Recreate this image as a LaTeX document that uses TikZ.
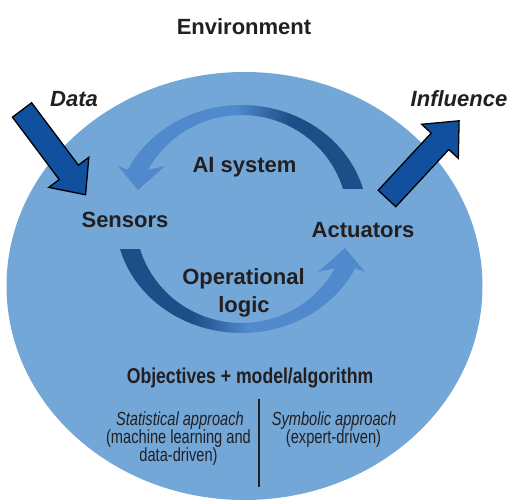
\documentclass[tikz,border=0pt]{standalone}
\usepackage{fontspec}
\setmainfont{Liberation Sans}
\newfontfamily\condfont{Liberation Sans}[FakeStretch=0.82]
\newfontfamily\notefont{Liberation Sans}[FakeStretch=0.77]
\definecolor{envblue}{RGB}{114,167,216}
\definecolor{loopdark}{RGB}{30,78,135}
\definecolor{looplight}{RGB}{80,138,205}
\definecolor{flowblue}{RGB}{17,80,158}
\definecolor{ink}{RGB}{35,31,32}

% loop shadings: the path's bounding box spans 25bp..75bp
\pgfdeclarehorizontalshading{upperloop}{100bp}{color(0bp)=(looplight); color(25bp)=(looplight);
  color(49bp)=(looplight); color(60bp)=(loopdark); color(75bp)=(loopdark); color(100bp)=(loopdark)}
\pgfdeclarehorizontalshading{lowerloop}{100bp}{color(0bp)=(loopdark); color(25bp)=(loopdark);
  color(40bp)=(loopdark); color(51bp)=(looplight); color(75bp)=(looplight); color(100bp)=(looplight)}

\begin{document}
\begin{tikzpicture}[x=1pt,y=-1pt,
  label/.style={text=ink, inner sep=0pt, anchor=base, font=\fontsize{22}{26}\selectfont\bfseries},
  flow/.style={text=ink, inner sep=0pt, anchor=base, font=\fontsize{22}{26}\selectfont\bfseries\itshape},
  headline/.style={text=ink, inner sep=0pt, anchor=base, font=\condfont\fontsize{21.5}{24}\selectfont\bfseries},
  note/.style={text=ink, inner sep=0pt, anchor=base, font=\notefont\fontsize{19}{21}\selectfont},
  noteit/.style={note, font=\notefont\fontsize{19}{21}\selectfont\itshape},
  block/.style={fill=flowblue, draw=black, line width=1.3pt, line join=miter},
]
\useasboundingbox (0,0) rectangle (509,502);

% environment disc
\fill[envblue] (244.5,286) ellipse [x radius=238, y radius=214];

% upper loop arrow (actuators -> sensors)
\path[shading=upperloop]
  plot[domain=15.3:154.5, samples=60] ({241.5+126*cos(\x)},{219-114*sin(\x)})
  -- (118,166) -- (138,190) -- (165,166)
  -- plot[domain=151.8:16.8, samples=60] ({241.5+106*cos(\x)},{219-104*sin(\x)})
  -- cycle;

% lower loop arrow (sensors -> actuators)
\path[shading=lowerloop]
  plot[domain=195.3:334.5, samples=60] ({241.5+126*cos(\x)},{219-114*sin(\x)})
  -- (365,272) -- (345,248) -- (318,272)
  -- plot[domain=331.8:196.8, samples=60] ({241.5+106*cos(\x)},{219-104*sin(\x)})
  -- cycle;

% incoming data arrow
\path[block] (31.6,102.8) -- (78.4,165.2) -- (88.8,157.4) -- (85.6,194.8)
  -- (48.8,187.4) -- (59.2,179.6) -- (12.4,117.2) -- cycle;

% outgoing influence arrow
\path[block] (395.8,206.7) -- (448.8,149.5) -- (458.3,158.3) -- (459.1,120.8)
  -- (421.7,124.3) -- (431.2,133.1) -- (378.2,190.3) -- cycle;

% labels
\node[label] (env) at (244,35) {Environment};
\node[flow] (data) at (74,107) {Data};
\node[flow] (infl) at (459,107) {Influence};
\node[label] (ai) at (244.5,173) {AI system};
\node[label] (sens) at (125,228) {Sensors};
\node[label] (act) at (363,238) {Actuators};
\node[label] (oper) at (243.5,285) {Operational};
\node[label] (logic) at (244,313) {logic};
\node[headline] (obj) at (250,384) {Objectives + model/algorithm};

\node[noteit] (stat) at (180,426) {Statistical approach};
\node[note] (ml) at (178.5,444) {(machine learning and};
\node[note] (dd) at (178.5,462) {data-driven)};
\node[noteit] (sym) at (334,426) {Symbolic approach};
\node[note] (exp) at (333.5,444) {(expert-driven)};

% divider between the two approaches
\coordinate (divtop) at (259,399);
\coordinate (divbot) at (259,487);
\draw[ink, line width=1.3pt] (divtop) -- (divbot);
\end{tikzpicture}
\end{document}
